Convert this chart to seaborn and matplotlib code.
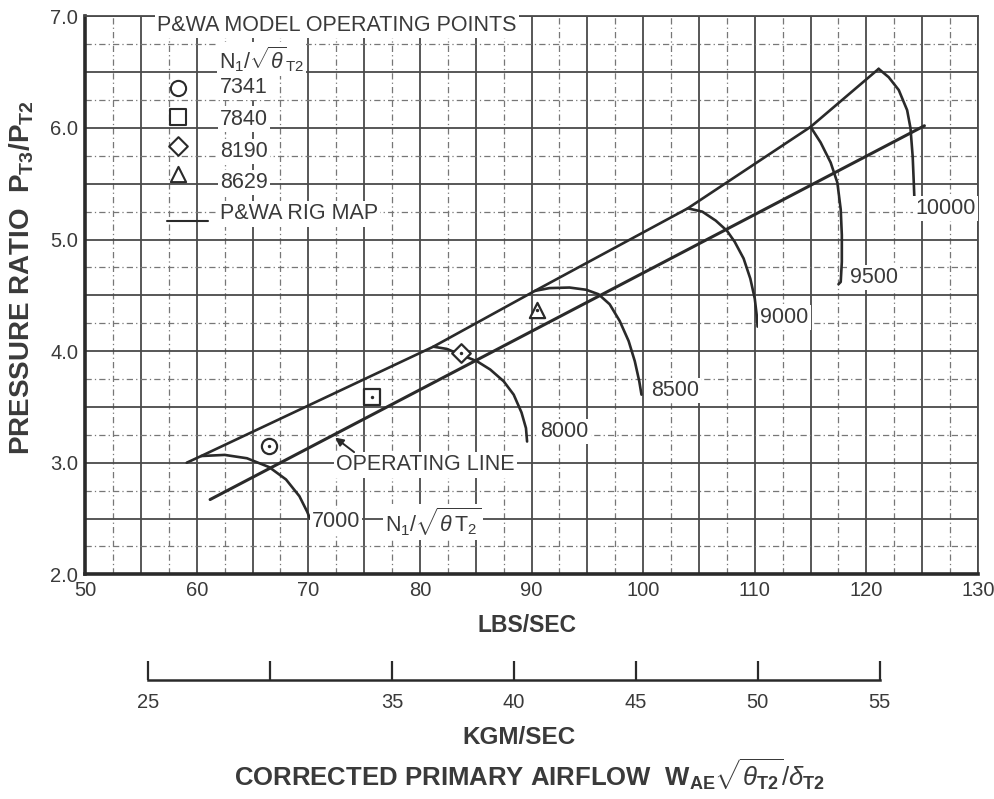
import numpy as np
import pandas as pd
import matplotlib
matplotlib.use("Agg")
import matplotlib.pyplot as plt
import seaborn as sns

# ---------------- data ----------------
surge_x = [59.1, 60.4, 81.2, 90.3, 104.0, 115.0, 121.1]
surge_y = [3.00, 3.06, 4.04, 4.54, 5.28, 6.01, 6.53]

opline_x = [61.2, 125.2]
opline_y = [2.67, 6.02]

speed_labels = ["7000", "8000", "8500", "9000", "9500", "10000"]
s7000_x = [60.4, 62.5, 64.5, 66.5, 68.0, 69.2, 69.9, 70.15]
s7000_y = [3.06, 3.07, 3.04, 2.96, 2.85, 2.70, 2.56, 2.50]
s8000_x = [81.2, 82.4, 83.6, 85.1, 86.3, 87.5, 88.4, 89.1, 89.5, 89.6]
s8000_y = [4.04, 4.02, 3.97, 3.91, 3.835, 3.73, 3.61, 3.45, 3.31, 3.19]
s8500_x = [90.3, 91.6, 93.4, 94.9, 96.0, 97.0, 97.9, 98.7, 99.25, 99.65, 99.85]
s8500_y = [4.54, 4.565, 4.57, 4.55, 4.51, 4.42, 4.27, 4.09, 3.91, 3.73, 3.61]
s9000_x = [104.0, 105.3, 106.5, 107.5, 108.2, 109.0, 109.6, 110.0, 110.2, 110.25]
s9000_y = [5.28, 5.25, 5.17, 5.08, 4.98, 4.83, 4.65, 4.47, 4.30, 4.22]
s9500_x = [115.0, 115.9, 116.8, 117.4, 117.7, 117.8, 117.8, 117.7, 117.5]
s9500_y = [6.01, 5.87, 5.69, 5.51, 5.27, 5.04, 4.80, 4.62, 4.60]
s10000_x = [121.1, 122.0, 122.9, 123.65, 123.95, 124.15, 124.25, 124.35]
s10000_y = [6.53, 6.455, 6.34, 6.16, 6.00, 5.74, 5.50, 5.24]
speed_label_x = [70.3, 90.8, 100.7, 110.5, 118.5, 124.4]
speed_label_y = [2.47, 3.28, 3.65, 4.30, 4.66, 5.28]

point_speeds = ["7341", "7840", "8190", "8629"]
point_x = [66.45, 75.7, 83.65, 90.45]
point_y = [3.15, 3.59, 3.985, 4.37]
point_markers = ["o", "s", "D", "^"]

x_ticks = [50, 60, 70, 80, 90, 100, 110, 120, 130]
y_ticks = [2.0, 3.0, 4.0, 5.0, 6.0, 7.0]
kg_ticks = [25, 30, 35, 40, 45, 50, 55]
kg_labels = ["25", "", "35", "40", "45", "50", "55"]

# ---------------- style ----------------
sns.set_theme(style="white")
plt.rcParams["font.family"] = ["Liberation Sans", "DejaVu Sans"]
plt.rcParams["mathtext.fontset"] = "custom"
plt.rcParams["mathtext.rm"] = "Liberation Sans"
plt.rcParams["mathtext.it"] = "Liberation Sans:italic"
plt.rcParams["mathtext.bf"] = "Liberation Sans:bold"
plt.rcParams["mathtext.sf"] = "Liberation Sans"

INK = "#2a2a2a"
GRID = "#4a4a4a"
TXT = "#3a3a3a"
FS = 15.5

fig = plt.figure(figsize=(9.95, 7.99), dpi=100)
L, R = 85.1 / 995, 978.0 / 995
T, B = 16.4 / 799, 574.3 / 799
ax = fig.add_axes([L, 1 - B, R - L, B - T])

ax.set_xlim(50, 130)
ax.set_ylim(2.0, 7.0)

# grid: solid every 5 / 0.5, dash-dot every 2.5 / 0.25 offsets
ax.set_xticks(np.arange(50, 130.1, 5))
ax.set_xticklabels([str(int(v)) if v in x_ticks else "" for v in np.arange(50, 130.1, 5)])
ax.set_yticks(np.arange(2.0, 7.01, 0.5))
ax.set_yticklabels([f"{v:.1f}" if any(abs(v - t) < 1e-6 for t in y_ticks) else ""
                    for v in np.arange(2.0, 7.01, 0.5)])
ax.set_xticks(np.arange(52.5, 130, 5), minor=True)
ax.set_yticks(np.arange(2.25, 7.0, 0.5), minor=True)
ax.grid(True, which="major", color=GRID, linewidth=1.3, linestyle="-")
ax.grid(True, which="minor", color="#777777", linewidth=0.9, linestyle=(0, (5, 2.5, 1, 2.5)))
ax.tick_params(which="both", length=0, labelsize=14.5, labelcolor=TXT, pad=5)
for s in ["left", "bottom"]:
    ax.spines[s].set_linewidth(2.6)
    ax.spines[s].set_color(INK)
for s in ["top", "right"]:
    ax.spines[s].set_linewidth(1.3)
    ax.spines[s].set_color(GRID)

lw = 1.9
sns.lineplot(x=surge_x, y=surge_y, sort=False, estimator=None, color=INK, lw=lw, ax=ax)
sns.lineplot(x=opline_x, y=opline_y, sort=False, estimator=None, color=INK, lw=lw + 0.3, ax=ax)
speed_xs = [s7000_x, s8000_x, s8500_x, s9000_x, s9500_x, s10000_x]
speed_ys = [s7000_y, s8000_y, s8500_y, s9000_y, s9500_y, s10000_y]
for xs, ys in zip(speed_xs, speed_ys):
    sns.lineplot(x=xs, y=ys, sort=False, estimator=None, color=INK, lw=lw, ax=ax)

box = dict(facecolor="white", edgecolor="none", pad=1.5)
for lab, lx, ly in zip(speed_labels, speed_label_x, speed_label_y):
    ax.text(lx, ly, lab, fontsize=FS, color=TXT, ha="left", va="center", bbox=box)
ax.text(76.9, 2.47, r"N$_1$/$\sqrt{\theta\,\mathrm{T}_2}$", fontsize=FS, color=TXT,
        ha="left", va="center", bbox=box)

# operating points
for px, py, m in zip(point_x, point_y, point_markers):
    ms = 120 if m != "D" else 90
    sns.scatterplot(x=[px], y=[py], marker=m, s=ms, facecolor="white",
                    edgecolor=INK, linewidth=1.6, ax=ax, zorder=5)
    sns.scatterplot(x=[px], y=[py], marker="o", s=6, color=INK, linewidth=0, ax=ax, zorder=6)

# operating line label + arrow
ax.text(72.5, 2.98, "OPERATING LINE", fontsize=FS, color=TXT, ha="left", va="center", bbox=box)
ax.annotate("", xy=(72.2, 3.24), xytext=(74.3, 3.08),
            arrowprops=dict(arrowstyle="-|>", color=INK, lw=1.4, mutation_scale=12))

# legend block
ax.text(56.45, 6.92, "P&WA MODEL OPERATING POINTS", fontsize=FS, color=TXT,
        ha="left", va="center", bbox=box)
ax.text(62.0, 6.62, r"N$_1$/$\sqrt{\theta}_{\mathrm{T2}}$", fontsize=FS, color=TXT,
        ha="left", va="center", bbox=box)
leg_y = [6.36, 6.10, 5.84, 5.59]
lab_y = [6.36, 6.08, 5.79, 5.51]
for lbl, m, my, ly in zip(point_speeds, point_markers, leg_y, lab_y):
    ms = 120 if m != "D" else 90
    sns.scatterplot(x=[58.35], y=[my], marker=m, s=ms, facecolor="white",
                    edgecolor=INK, linewidth=1.5, ax=ax, zorder=5)
    ax.text(62.1, ly, lbl, fontsize=FS, color=TXT, ha="left", va="center", bbox=box)
sns.lineplot(x=[57.3, 61.0], y=[5.17, 5.17], sort=False, estimator=None, color=INK, lw=1.5, ax=ax)
ax.text(62.1, 5.23, "P&WA RIG MAP", fontsize=FS, color=TXT, ha="left", va="center", bbox=box)

ax.set_xlabel("")
ax.set_ylabel("")
fig.text(527 / 995, 1 - 625 / 799, "LBS/SEC", fontsize=16.5, fontweight="bold",
         color=TXT, ha="center", va="center")
fig.text(22 / 995, 1 - 278 / 799,
         r"PRESSURE RATIO  P$_{\mathbf{T3}}$/P$_{\mathbf{T2}}$",
         fontsize=20, fontweight="bold", color=TXT, rotation=90, ha="center", va="center")

# secondary KGM/SEC scale
kg_left = 25 - (148.5 - 85.1) / 24.37
kg_right = kg_left + (978.0 - 85.1) / 24.37
line_y = 1 - 680 / 799
ax2 = fig.add_axes([L, line_y, R - L, 0.02])
ax2.set_xlim(kg_left, kg_right)
ax2.set_ylim(0, 1)
ax2.patch.set_alpha(0)
for s in ["left", "right", "top"]:
    ax2.spines[s].set_visible(False)
ax2.spines["bottom"].set_bounds(25, 55)
ax2.spines["bottom"].set_linewidth(1.8)
ax2.spines["bottom"].set_color(INK)
ax2.set_yticks([])
ax2.set_xticks(kg_ticks)
ax2.set_xticklabels(kg_labels)
ax2.tick_params(axis="x", bottom=True, direction="in", length=14, width=1.6, color=INK,
                labelsize=14.5, labelcolor=TXT, pad=9)
ax2.grid(False)

fig.text(519 / 995, 1 - 737 / 799, "KGM/SEC", fontsize=17.5, fontweight="bold",
         color=TXT, ha="center", va="center")
fig.text(530 / 995, 1 - 775 / 799,
         r"CORRECTED PRIMARY AIRFLOW  W$_{\mathbf{AE}}\sqrt{\theta_{\mathbf{T2}}}/\delta_{\mathbf{T2}}$",
         fontsize=18.5, fontweight="bold", color=TXT, ha="center", va="center")

fig.savefig("out.png", dpi=100, facecolor="white")
